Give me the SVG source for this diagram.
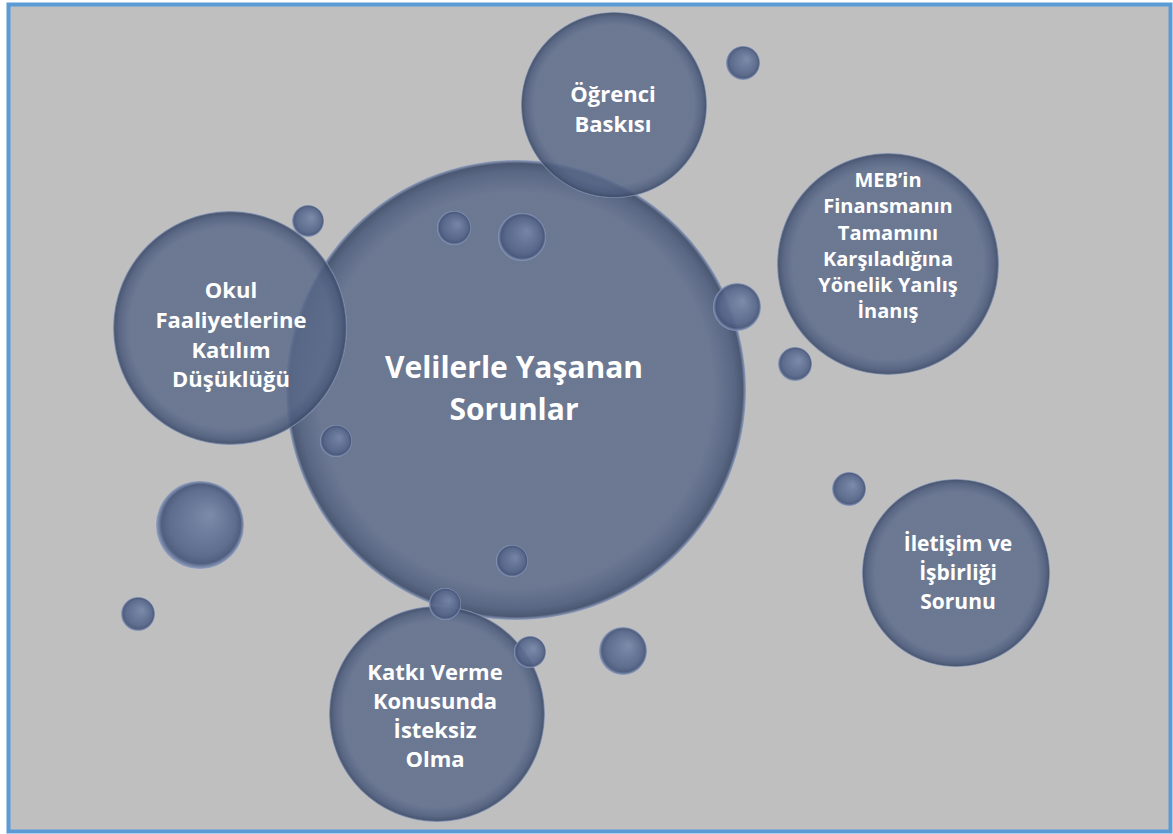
<svg xmlns="http://www.w3.org/2000/svg" width="1173" height="834" viewBox="0 0 1173 834">
  <defs>
    <radialGradient id="big" cx="0.5" cy="0.5" r="0.5">
      <stop offset="0" stop-color="#5a6989" stop-opacity="0.82"/>
      <stop offset="0.86" stop-color="#5a6989" stop-opacity="0.82"/>
      <stop offset="0.95" stop-color="#4c5b7c" stop-opacity="0.88"/>
      <stop offset="0.985" stop-color="#3f4d6a" stop-opacity="0.9"/>
      <stop offset="1" stop-color="#8fa0c4" stop-opacity="0.9"/>
    </radialGradient>
    <radialGradient id="small" cx="0.5" cy="0.5" r="0.5" fx="0.62" fy="0.38">
      <stop offset="0" stop-color="#7787a8"/>
      <stop offset="0.75" stop-color="#56668a"/>
      <stop offset="0.9" stop-color="#47567a"/>
      <stop offset="1" stop-color="#8e9fc3"/>
    </radialGradient>
    <style>
      .node { fill: url(#big); }
      .bub { fill: url(#small); fill-opacity: 0.92; }
      .t { font-family: "Open Sans", "Liberation Sans", sans-serif; font-weight: bold; fill: #ffffff; text-anchor: middle; }
    </style>
  </defs>
  <rect x="0" y="0" width="1173" height="834" fill="#ffffff"/>
  <rect x="8.5" y="4.5" width="1162" height="827" fill="#bfbfbf" stroke="#5b9bd5" stroke-width="4"/>

  <g id="center">
    <circle class="node" cx="516" cy="390" r="230"/>
    <text class="t" font-size="30" x="514" y="378">Velilerle Yaşanan</text>
    <text class="t" font-size="30" x="514" y="420">Sorunlar</text>
  </g>

  <g id="ogrenci">
    <circle class="node" cx="614" cy="105" r="93"/>
    <text class="t" font-size="22" x="613" y="102">Öğrenci</text>
    <text class="t" font-size="22" x="613" y="132">Baskısı</text>
  </g>

  <g id="okul">
    <circle class="node" cx="230" cy="328" r="117"/>
    <text class="t" font-size="22" x="231" y="298">Okul</text>
    <text class="t" font-size="22" x="231" y="328">Faaliyetlerine</text>
    <text class="t" font-size="22" x="231" y="358">Katılım</text>
    <text class="t" font-size="22" x="231" y="387">Düşüklüğü</text>
  </g>

  <g id="meb">
    <circle class="node" cx="888" cy="264" r="111"/>
    <text class="t" font-size="20" x="888" y="187">MEB’in</text>
    <text class="t" font-size="20" x="888" y="213">Finansmanın</text>
    <text class="t" font-size="20" x="888" y="240">Tamamını</text>
    <text class="t" font-size="20" x="888" y="266">Karşıladığına</text>
    <text class="t" font-size="20" x="888" y="292">Yönelik Yanlış</text>
    <text class="t" font-size="20" x="888" y="318">İnanış</text>
  </g>

  <g id="iletisim">
    <circle class="node" cx="956" cy="573" r="94"/>
    <text class="t" font-size="21" x="958" y="551">İletişim ve</text>
    <text class="t" font-size="21" x="958" y="580">İşbirliği</text>
    <text class="t" font-size="21" x="958" y="609">Sorunu</text>
  </g>

  <g id="katki">
    <circle class="node" cx="437" cy="714" r="108"/>
    <text class="t" font-size="22" x="435" y="680">Katkı Verme</text>
    <text class="t" font-size="22" x="435" y="709">Konusunda</text>
    <text class="t" font-size="22" x="435" y="738">İsteksiz</text>
    <text class="t" font-size="22" x="435" y="767">Olma</text>
  </g>

  <g id="bubbles">
    <circle class="bub" cx="743" cy="63" r="17"/>
    <circle class="bub" cx="308" cy="221" r="16"/>
    <circle class="bub" cx="454" cy="228" r="17"/>
    <circle class="bub" cx="522" cy="237" r="24"/>
    <circle class="bub" cx="737" cy="307" r="24"/>
    <circle class="bub" cx="795" cy="364" r="17"/>
    <circle class="bub" cx="336" cy="441" r="16"/>
    <circle class="bub" cx="200" cy="525" r="44"/>
    <circle class="bub" cx="849" cy="489" r="17"/>
    <circle class="bub" cx="512" cy="561" r="16"/>
    <circle class="bub" cx="445" cy="604" r="16"/>
    <circle class="bub" cx="138" cy="614" r="17"/>
    <circle class="bub" cx="530" cy="652" r="16"/>
    <circle class="bub" cx="623" cy="651" r="24"/>
  </g>
</svg>
